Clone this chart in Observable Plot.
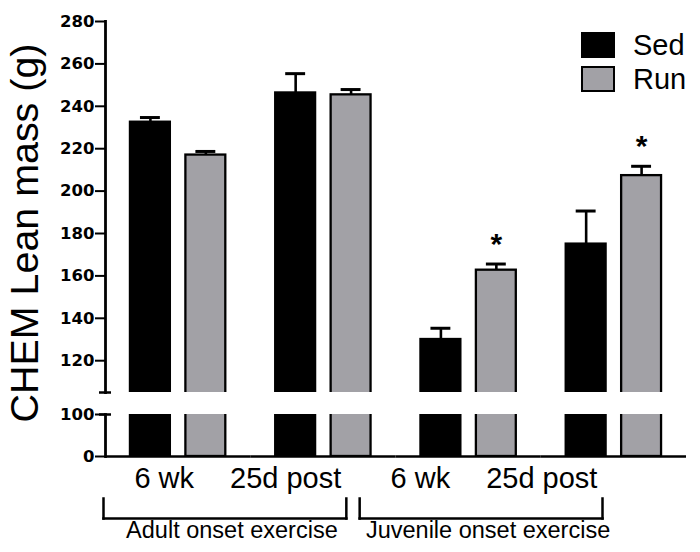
<!DOCTYPE html>
<html>
<head>
<meta charset="utf-8">
<script src="https://cdn.jsdelivr.net/npm/d3@7"></script>
<script src="https://cdn.jsdelivr.net/npm/@observablehq/plot@0.6"></script>
<style>
  body { margin: 0; background: #fff; }
  #chart { position: relative; width: 700px; height: 552px; overflow: hidden; background: #fff; }
  #chart svg { position: absolute; left: 0; top: 0; }
  #ytitle { position: absolute; left: 25px; top: 232.5px; transform: translate(-50%, -50%) rotate(-90deg);
    font-family: "Liberation Sans", Arial, sans-serif; font-size: 39px; line-height: 1; white-space: nowrap; color: #000; }
  #legend { position: absolute; left: 581px; top: 28px; font: 29px "Liberation Sans", Arial, sans-serif; color: #000; }
  #legend .row { display: flex; align-items: center; height: 34px; }
  #legend .sw { width: 34px; height: 26px; box-sizing: border-box; border: 2px solid #000; }
  #legend .lab { margin-left: 18px; }
</style>
</head>
<body>
<div id="chart"></div>
<script>
// ---- data ----
const groupKeys = ["Adult 6 wk", "Adult 25d post", "Juvenile 6 wk", "Juvenile 25d post"];
const series = ["Sed", "Run"];
const seriesColors = ["#000000", "#a2a1a6"];
const sedMean = [232.5, 246.3, 130.0, 175.0];
const sedSem = [2.2, 9.1, 5.3, 15.6];
const runMean = [217.0, 245.4, 162.7, 207.3];
const runSem = [1.7, 2.5, 2.9, 4.4];
const runSignificant = [false, false, true, true];
const timepoints = ["6 wk", "25d post"];
const onsetGroups = ["Adult onset exercise", "Juvenile onset exercise"];
const upperTicks = [120, 140, 160, 180, 200, 220, 240, 260, 280];
const lowerTicks = [0, 100];
const upperDomain = [105, 280];
const lowerDomain = [0, 100];
const yTitle = "CHEM Lean mass (g)";

// ---- tables ----
const rows = groupKeys.flatMap((g, i) => [
  {group: g, series: "Sed", mean: sedMean[i], sem: sedSem[i], sig: false},
  {group: g, series: "Run", mean: runMean[i], sem: runSem[i], sig: runSignificant[i]}
]);
const labelRows = onsetGroups.flatMap((o) => timepoints.map((t) => ({onset: o, time: t})));

// ---- layout ----
const W = 700, H = 552;
const mLeft = 105, mRight = 14;
const upperTop = 21, upperBottom = 392, lowerTop = 414, lowerBottom = 456;
const facetW = (W - mLeft - mRight) / groupKeys.length;

const fxScale = {domain: groupKeys, padding: 0, round: false, axis: null, label: null};
const xScale = {domain: series, paddingInner: 0.28, paddingOuter: 0.45, round: false, axis: null, label: null};
const colorScale = {domain: series, range: seriesColors};
const axisStyle = {background: "none", fontFamily: "'DejaVu Sans', sans-serif", fontSize: "16.5px", fontWeight: "bold", color: "#000"};

const upper = Plot.plot({
  width: W, height: H,
  marginLeft: mLeft, marginRight: mRight, marginTop: upperTop, marginBottom: H - upperBottom,
  fx: fxScale, x: xScale, y: {domain: upperDomain, axis: null}, color: colorScale,
  style: axisStyle,
  marks: [
    Plot.barY(rows, {fx: "group", x: "series", y: "mean", fill: "series", stroke: "#000", strokeWidth: 2.3, clip: true}),
    Plot.ruleX(rows, {fx: "group", x: "series", y1: "mean", y2: (d) => d.mean + d.sem, stroke: "#000", strokeWidth: 2.6}),
    Plot.tickY(rows, {fx: "group", x: "series", y: (d) => d.mean + d.sem, stroke: "#000", strokeWidth: 3, insetLeft: 10, insetRight: 10}),
    Plot.text(rows.filter((d) => d.sig), {fx: "group", x: "series", y: (d) => d.mean + d.sem, text: () => "*",
      lineAnchor: "bottom", dy: -10, fontSize: 30, fontWeight: "bold", fontFamily: "'Liberation Sans', Arial, sans-serif", fill: "#000"}),
    Plot.frame({anchor: "left", facetAnchor: "left", stroke: "#000", strokeWidth: 2.8}),
    Plot.ruleY([upperDomain[0]], {facetAnchor: "left", insetLeft: -6, insetRight: facetW - 6, stroke: "#000", strokeWidth: 2.5}),
    Plot.axisY({ticks: upperTicks, tickSize: 10, tickPadding: 1, stroke: "#000", strokeWidth: 2, fill: "#000", label: null})
  ]
});

const lower = Plot.plot({
  width: W, height: H,
  marginLeft: mLeft, marginRight: mRight, marginTop: lowerTop, marginBottom: H - lowerBottom,
  fx: fxScale, x: xScale, y: {domain: lowerDomain, axis: null}, color: colorScale,
  style: axisStyle,
  marks: [
    Plot.barY(rows, {fx: "group", x: "series", y: "mean", fill: "series", stroke: "#000", strokeWidth: 2.3, clip: true}),
    Plot.ruleY([lowerDomain[0]], {stroke: "#000", strokeWidth: 2.6}),
    Plot.frame({anchor: "left", facetAnchor: "left", stroke: "#000", strokeWidth: 2.8}),
    Plot.ruleY([lowerDomain[1]], {facetAnchor: "left", insetLeft: -6, insetRight: facetW - 6, stroke: "#000", strokeWidth: 2.5}),
    Plot.axisY({ticks: lowerTicks, tickSize: 10, tickPadding: 1, stroke: "#000", strokeWidth: 2, fill: "#000", label: null})
  ]
});

const notes = Plot.plot({
  width: W, height: H,
  marginLeft: 103, marginRight: W - 602, marginTop: 498, marginBottom: H - 518,
  fx: {domain: onsetGroups, paddingInner: 0.052, paddingOuter: 0, round: false, label: null},
  x: {type: "band", domain: timepoints, padding: 0, round: false, axis: null, label: null},
  style: {background: "none", fontFamily: "'Liberation Sans', Arial, sans-serif", fontSize: "29px", color: "#000"},
  marks: [
    Plot.text(labelRows, {fx: "onset", x: "time", text: "time", frameAnchor: "top", lineAnchor: "bottom", dy: -11, fill: "#000"}),
    Plot.frame({anchor: "left", stroke: "#000", strokeWidth: 2.5}),
    Plot.frame({anchor: "right", stroke: "#000", strokeWidth: 2.5}),
    Plot.frame({anchor: "bottom", stroke: "#000", strokeWidth: 2.5}),
    Plot.axisFx({anchor: "bottom", tickSize: 0, tickPadding: 3, dx: 7, fontSize: 23.5, fill: "#000", label: null})
  ]
});

const chart = document.getElementById("chart");
chart.append(upper, lower, notes);

const title = document.createElement("div");
title.id = "ytitle";
title.textContent = yTitle;
chart.append(title);
// fit the rotated title to the span it covers in the reference (about 379px)
const natural = title.offsetWidth;
if (natural > 0) title.style.fontSize = (39 * 379 / natural).toFixed(2) + "px";

const legend = document.createElement("div");
legend.id = "legend";
series.forEach((s, i) => {
  const row = document.createElement("div");
  row.className = "row";
  const sw = document.createElement("div");
  sw.className = "sw";
  sw.style.background = seriesColors[i];
  const lab = document.createElement("span");
  lab.className = "lab";
  lab.textContent = s;
  row.append(sw, lab);
  legend.append(row);
});
chart.append(legend);
</script>
</body>
</html>
